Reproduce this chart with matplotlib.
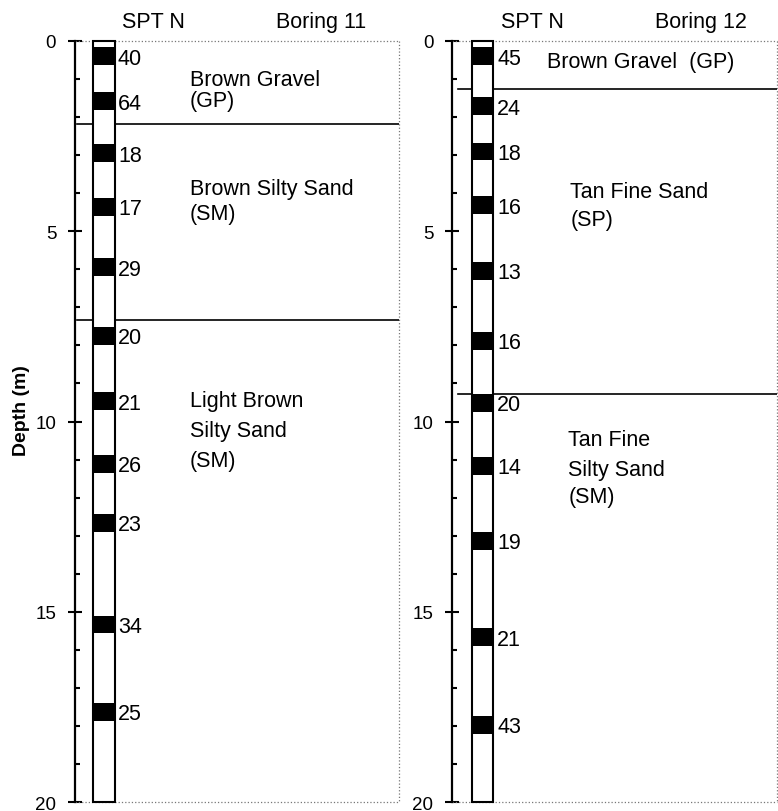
import matplotlib
matplotlib.use("Agg")
import matplotlib.pyplot as plt
from matplotlib.patches import Rectangle

plt.rcParams['font.family'] = ['Liberation Sans', 'DejaVu Sans']

# boring 11
b11_top = [0.17, 1.35, 2.72, 4.13, 5.71, 7.52, 9.23, 10.88, 12.43, 15.10, 17.39]
b11_n = [40, 64, 18, 17, 29, 20, 21, 26, 23, 34, 25]
b11_layers = [2.19, 7.34]
b11_desc = ["Brown Gravel", "(GP)", "Brown Silty Sand", "(SM)",
            "Light Brown", "Silty Sand", "(SM)"]

# boring 12
b12_top = [0.17, 1.48, 2.67, 4.08, 5.81, 7.65, 9.28, 10.93, 12.90, 15.44, 17.73]
b12_n = [45, 24, 18, 16, 13, 16, 20, 14, 19, 21, 43]
b12_layers = [1.27, 9.29]
b12_desc = ["Brown Gravel  (GP)", "Tan Fine Sand", "(SP)",
            "Tan Fine", "Silty Sand", "(SM)"]

sample_len = 0.47
max_depth = 20
FS = 15.5


def px2d(y):
    # pixel row -> depth (m)
    return (y - 41.5) / 38.05


def draw_boring(ax, tops, nvals, layers, desc, desc_pos, col, line_x0, nx,
                hdr, title):
    W = 324
    ax.set_xlim(0, W)
    ax.set_ylim(max_depth, 0)
    for s in ['top', 'right', 'bottom']:
        ax.spines[s].set_visible(False)
    ax.spines['left'].set_linewidth(1.6)
    ax.set_xticks([])
    ax.set_yticks(range(0, 21, 5))
    ax.set_yticks(range(0, 21, 1), minor=True)
    ax.tick_params(axis='y', which='major', direction='inout', length=10,
                   width=1.5, labelsize=13.5, pad=8.5)
    ax.tick_params(axis='y', which='minor', direction='in', length=3.5,
                   width=1.5)

    # box
    kw = dict(color='#777777', lw=0.9, ls=':', clip_on=False)
    ax.plot([0, W], [0, 0], **kw)
    ax.plot([0, W], [max_depth, max_depth], **kw)
    ax.plot([W, W], [0, max_depth], **kw)

    # layer boundaries
    for d in layers:
        ax.plot([line_x0, W], [d, d], color='black', lw=1.2, zorder=2)

    # soil column
    ax.add_patch(Rectangle((col[0], 0), col[1] - col[0], max_depth,
                           facecolor='white', edgecolor='black', lw=1.5,
                           zorder=3, clip_on=False))
    for t, n in zip(tops, nvals):
        ax.add_patch(Rectangle((col[0], t), col[1] - col[0], sample_len,
                               facecolor='black', edgecolor='none', zorder=4))
        ax.text(nx, t + sample_len / 2 + 0.05, str(n), fontsize=FS,
                va='center', ha='left')

    for s, (x, y) in zip(desc, desc_pos):
        ax.text(x, px2d(y), s, fontsize=FS, va='center', ha='left')

    ax.text(hdr[0], px2d(22), "SPT N", fontsize=FS, va='center',
            ha='center', clip_on=False)
    ax.text(hdr[1], px2d(22), title, fontsize=FS, va='center',
            ha='center', clip_on=False)


fig = plt.figure(figsize=(7.78, 8.12), dpi=100)
ax1 = fig.add_axes([75 / 778, 9 / 812, 324 / 778, 761 / 812])
ax2 = fig.add_axes([452 / 778, 9 / 812, 325 / 778, 761 / 812])

draw_boring(ax1, b11_top, b11_n, b11_layers, b11_desc,
            [(115, 80), (115, 101), (115, 189), (115, 214),
             (115, 401), (115, 431), (115, 461)],
            col=(18, 40), line_x0=2, nx=43, hdr=(78, 246), title="Boring 11")
draw_boring(ax2, b12_top, b12_n, b12_layers, b12_desc,
            [(95, 62), (118, 192), (118, 220),
             (116, 440), (116, 470), (116, 497)],
            col=(20, 41), line_x0=6, nx=45, hdr=(80, 248), title="Boring 12")

ax1.set_ylabel("Depth (m)", fontsize=14, fontweight='bold')
ax1.yaxis.set_label_coords(-0.139, 0.516)

fig.savefig("out.png", dpi=100)
